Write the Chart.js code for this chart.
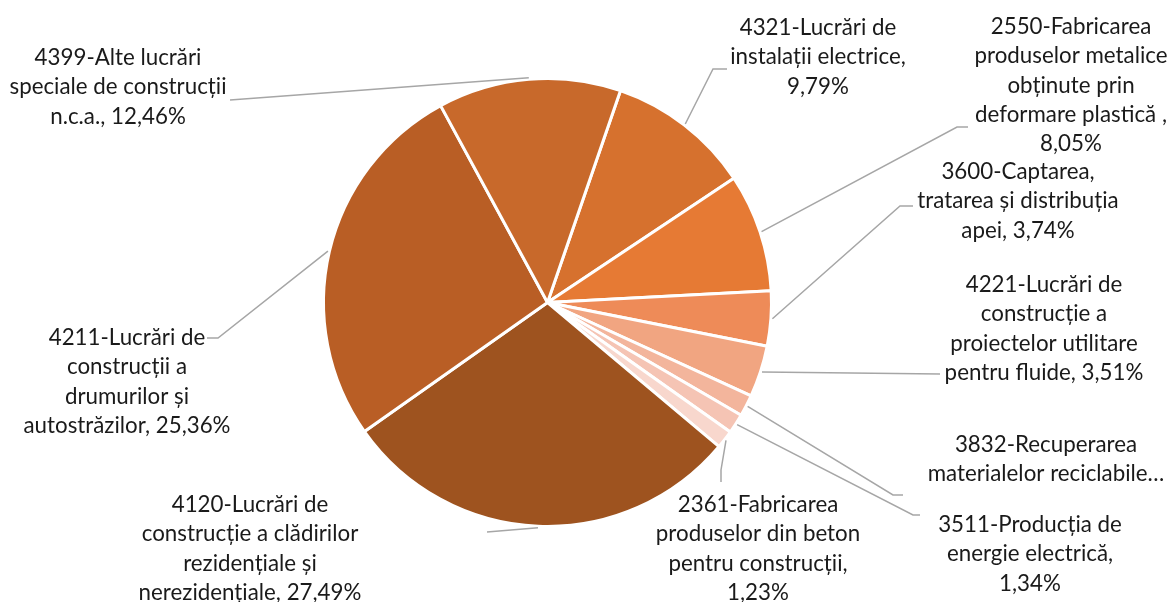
<!DOCTYPE html>
<html><head><meta charset="utf-8">
<script src="https://cdn.jsdelivr.net/npm/chart.js@4.4.1/dist/chart.umd.min.js"></script>
<style>html,body{margin:0;padding:0;background:#fff;} #wrap{width:1172px;height:602px;position:relative;}</style>
</head><body><div id="wrap"><canvas id="c" width="1172" height="602"></canvas></div>
<script>
// ---- data (clockwise order, starting at the 4321 slice) ----
const categories = [
  '4321-Lucrări de instalații electrice',
  '2550-Fabricarea produselor metalice obținute prin deformare plastică ',
  '3600-Captarea, tratarea și distribuția apei',
  '4221-Lucrări de construcție a proiectelor utilitare pentru fluide',
  '3832-Recuperarea materialelor reciclabile sortate',
  '3511-Producția de energie electrică',
  '2361-Fabricarea produselor din beton pentru construcții',
  '4120-Lucrări de construcție a clădirilor rezidențiale și nerezidențiale',
  '4211-Lucrări de construcții a drumurilor și autostrăzilor',
  '4399-Alte lucrări speciale de construcții n.c.a.'
];
const shares = [9.79, 8.05, 3.74, 3.51, 1.46, 1.34, 1.23, 27.49, 25.36, 12.46];

// label text lines ({v} = formatted share)
const labelLines = [
  ['4321-Lucrări de', 'instalații electrice,', '{v}'],
  ['2550-Fabricarea', 'produselor metalice', 'obținute prin', 'deformare plastică ,', '{v}'],
  ['3600-Captarea,', 'tratarea și distribuția', 'apei, {v}'],
  ['4221-Lucrări de', 'construcție a', 'proiectelor utilitare', 'pentru fluide, {v}'],
  ['3832-Recuperarea', 'materialelor reciclabile…'],
  ['3511-Producția de', 'energie electrică,', '{v}'],
  ['2361-Fabricarea', 'produselor din beton', 'pentru construcții,', '{v}'],
  ['4120-Lucrări de', 'construcție a clădirilor', 'rezidențiale și', 'nerezidențiale, {v}'],
  ['4211-Lucrări de', 'construcții a', 'drumurilor și', 'autostrăzilor, {v}'],
  ['4399-Alte lucrări', 'speciale de construcții', 'n.c.a., {v}']
];

// ---- styles / layout ----
const colors = ['#D6712E', '#E67A34', '#EE8B58', '#F1A581', '#F3B59C', '#F5C4B4', '#F8D7CD', '#9E531F', '#B95E25', '#C8692B'];
const labelLayout = [
  {cx: 818,  y0: 28,  a: [727, 69],  e: [713, 69]},
  {cx: 1071, y0: 27,  a: [968, 127], e: [957, 127]},
  {cx: 1018, y0: 172, a: [913, 206], e: [900, 206]},
  {cx: 1044, y0: 285, a: [940, 374], e: null},
  {cx: 1046, y0: 445, a: [903, 495], e: [893, 495]},
  {cx: 1030, y0: 525, a: [920, 515], e: [913, 515]},
  {cx: 758,  y0: 505, a: [721, 482], e: [721, 470]},
  {cx: 250,  y0: 505, a: [487, 532], e: null},
  {cx: 127,  y0: 338, a: [207, 338], e: [218, 338]},
  {cx: 118,  y0: 58,  a: [230, 100], e: null}
];
const FONT_FAMILY = 'Lato, "Liberation Sans", sans-serif';
const LINE_H = 29.3;
const fontSize = (function () {
  const c = document.createElement('canvas').getContext('2d');
  c.font = '100px ' + FONT_FAMILY;
  return 100 * 207 / c.measureText('autostrăzilor, 25,36%').width;
})();
const fmt = v => v.toFixed(2).replace('.', ',') + '%';

const labelPlugin = {
  id: 'pieLabels',
  afterDatasetsDraw(chart) {
    const ctx = chart.ctx;
    const meta = chart.getDatasetMeta(0);
    ctx.save();
    meta.data.forEach((arc, i) => {
      const L = labelLayout[i];
      const mid = (arc.startAngle + arc.endAngle) / 2;
      const r = arc.outerRadius + 1.5;
      const px = arc.x + Math.cos(mid) * r, py = arc.y + Math.sin(mid) * r;
      ctx.beginPath();
      ctx.strokeStyle = '#A6A6A6';
      ctx.lineWidth = 1.5;
      ctx.moveTo(L.a[0], L.a[1]);
      if (L.e) ctx.lineTo(L.e[0], L.e[1]);
      ctx.lineTo(px, py);
      ctx.stroke();
      ctx.fillStyle = '#1a1a1a';
      ctx.font = fontSize.toFixed(2) + 'px ' + FONT_FAMILY;
      ctx.textAlign = 'center';
      ctx.textBaseline = 'middle';
      labelLines[i].forEach((t, k) => {
        ctx.fillText(t.replace('{v}', fmt(shares[i])), L.cx, L.y0 + k * LINE_H);
      });
    });
    ctx.restore();
  }
};

new Chart(document.getElementById('c'), {
  type: 'pie',
  data: {
    labels: categories,
    datasets: [{data: shares, backgroundColor: colors, borderColor: '#ffffff', borderWidth: 3}]
  },
  options: {
    responsive: false,
    animation: false,
    rotation: 19,
    layout: {padding: {top: 77, bottom: 74, left: 300, right: 377}},
    plugins: {legend: {display: false}, tooltip: {enabled: false}}
  },
  plugins: [labelPlugin]
});
</script>
</body></html>
